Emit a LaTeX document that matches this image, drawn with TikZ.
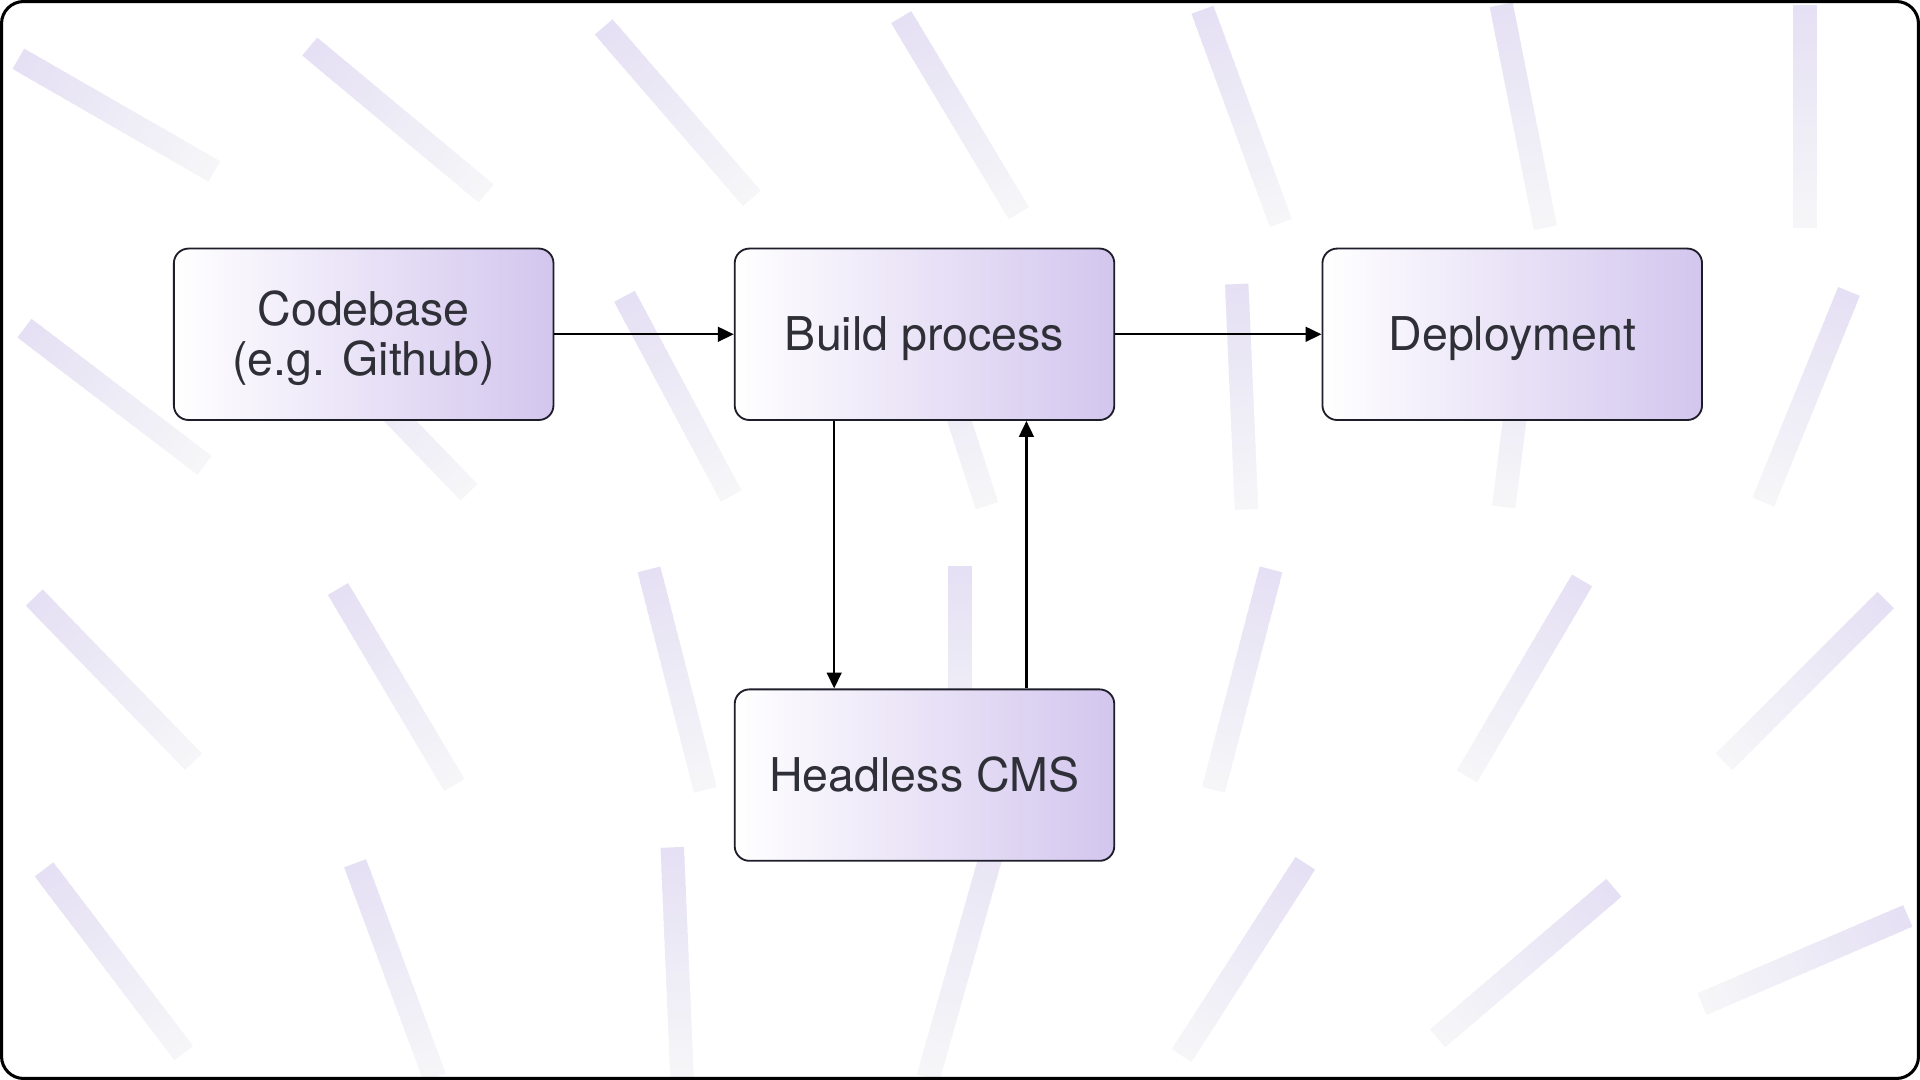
\documentclass[tikz,border=0pt]{standalone}
\usepackage{fontspec}
\setmainfont{TeX Gyre Heros}
\usetikzlibrary{arrows.meta,calc}
\definecolor{bgdark}{HTML}{E5E0F4}
\definecolor{bglight}{HTML}{F6F6F8}
\definecolor{boxr}{HTML}{D3C6EE}
\definecolor{txt}{HTML}{2F3037}
\definecolor{edge}{HTML}{1E1E2A}
\newcommand\bgs[2]{%
  \foreach \i in {0,...,23}{%
    \pgfmathsetmacro\ta{\i/24}%
    \pgfmathsetmacro\tb{min((\i+1.6)/24,1)}%
    \pgfmathtruncatemacro\pc{100-\i*100/23}%
    \draw[bgline,color=bgdark!\pc!bglight] ($(#1)!\ta!(#2)$) -- ($(#1)!\tb!(#2)$);
  }}
\newcommand\lbl[1]{\raisebox{-5pt}[\height][\depth]{\begin{tabular}{@{}c@{}}#1\end{tabular}}}
\begin{document}
\begin{tikzpicture}[x=1pt,y=-1pt,
  bgline/.style={line width=19pt,line cap=butt},
  stepbox/.style={draw=edge,line width=1.5pt,rounded corners=12pt,minimum width=310pt,minimum height=140pt,
    left color=white,right color=boxr,text=txt,font=\fontsize{38}{41}\selectfont,align=center,inner sep=0pt},
  conn/.style={line width=1.9pt,black,-{Triangle[length=13pt,width=12pt]}}]
\useasboundingbox (0,0) rectangle (1568,882);
\fill[white] (0,0) rectangle (1568,882);
% background strokes
\bgs{15,48}{175,140}
\bgs{253,38}{397,158}
\bgs{493,22}{614,162}
\bgs{736,14}{832,174}
\bgs{982,8}{1046,182}
\bgs{1226,4}{1262,186}
\bgs{1474,4}{1474,186}
\bgs{20,268}{167,380}
\bgs{270,285}{383,402}
\bgs{510,242}{597,405}
\bgs{750,240}{806,413}
\bgs{1010,232}{1018,416}
\bgs{1250,240}{1228,414}
\bgs{1510,238}{1440,410}
\bgs{28,488}{158,622}
\bgs{276,481}{371,641}
\bgs{530,465}{576,645}
\bgs{784,462}{784,645}
\bgs{1038,465}{991,645}
\bgs{1292,474}{1198,634}
\bgs{1540,490}{1408,622}
\bgs{36,710}{150,860}
\bgs{290,705}{355,880}
\bgs{549,692}{557,880}
\bgs{826,640}{758,880}
\bgs{1066,705}{965,862}
\bgs{1318,725}{1174,848}
\bgs{1558,748}{1390,820}
% frame
\draw[line width=2.5pt,rounded corners=18pt] (1.25,1.25) rectangle (1566.75,880.75);
% boxes
\node[stepbox] (code) at (297,273) {\lbl{Codebase\\(e.g. Github)}};
\node[stepbox] (build) at (755,273) {\lbl{Build process}};
\node[stepbox] (deploy) at (1235,273) {\lbl{Deployment}};
\node[stepbox] (cms) at (755,633) {\lbl{Headless CMS}};
% connectors
\draw[conn] (code.east) -- (build.west);
\draw[conn] (build.east) -- (deploy.west);
\draw[conn] ([xshift=82pt]build.south west) -- ([xshift=82pt]cms.north west);
\draw[conn] ([xshift=239pt]cms.north west) -- ([xshift=239pt]build.south west);
\end{tikzpicture}
\end{document}
